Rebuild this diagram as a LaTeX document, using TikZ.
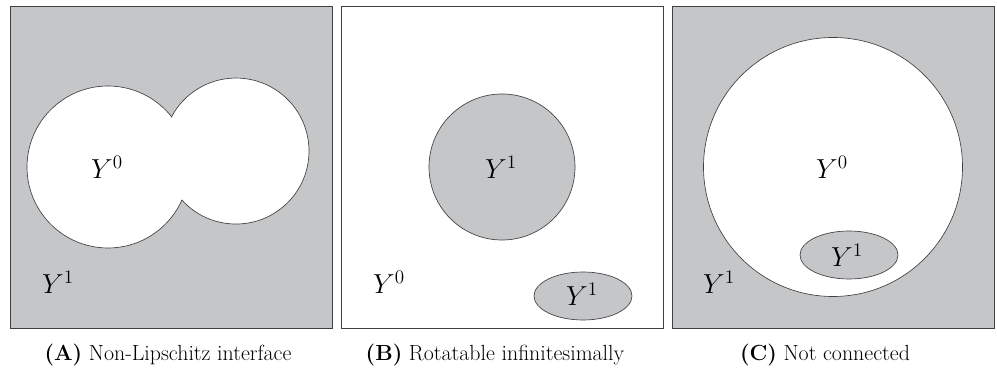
\documentclass[tikz,border=0pt]{standalone}
\definecolor{phasegray}{RGB}{197,198,200}
\begin{document}
\begin{tikzpicture}[x=0.0265cm,y=0.0265cm,line width=.5pt,
  cell/.style={draw=black!75},
  phase/.style={font=\fontsize{22}{26}\selectfont},
  caption/.style={font=\fontsize{16.5}{20}\selectfont}]
\useasboundingbox (0,0) rectangle (997,370);
% (A) two overlapping discs
\filldraw[cell,fill=phasegray] (10,42) rectangle (332,364);
\coordinate (LA) at (108,203); \coordinate (RA) at (236,219);
\filldraw[cell,fill=white] (LA) ++(38.3:81) arc[start angle=38.3,end angle=335.9,radius=81]
  arc[start angle=222.2,end angle=512,radius=73] -- cycle;
\node[phase] (a0) at (107,203) {$Y^0$}; \node[phase] (a1) at (58,88) {$Y^1$};
\node[caption] (capA) at (168,15) {\textbf{(A)} Non-Lipschitz interface};
% (B) inclusions in Y^0
\draw[cell] (341,42) rectangle (663,364);
\filldraw[cell,fill=phasegray] (502,203) circle[radius=73];
\filldraw[cell,fill=phasegray] (583,74) ellipse[x radius=49,y radius=24];
\node[phase] (b1) at (501,203) {$Y^1$}; \node[phase] (b2) at (582,76) {$Y^1$};
\node[phase] (b0) at (389,88) {$Y^0$};
\node[caption] (capB) at (495,15) {\textbf{(B)} Rotatable infinitesimally};
% (C) disconnected Y^1
\filldraw[cell,fill=phasegray] (672,42) rectangle (994,364);
\filldraw[cell,fill=white] (833,203) circle[radius=129.5];
\filldraw[cell,fill=phasegray] (849,115) ellipse[x radius=49,y radius=24];
\node[phase] (c0) at (832,203) {$Y^0$}; \node[phase] (c2) at (847,115) {$Y^1$};
\node[phase] (c1) at (719,88) {$Y^1$};
\node[caption] (capC) at (825,15) {\textbf{(C)} Not connected};
\end{tikzpicture}
\end{document}
